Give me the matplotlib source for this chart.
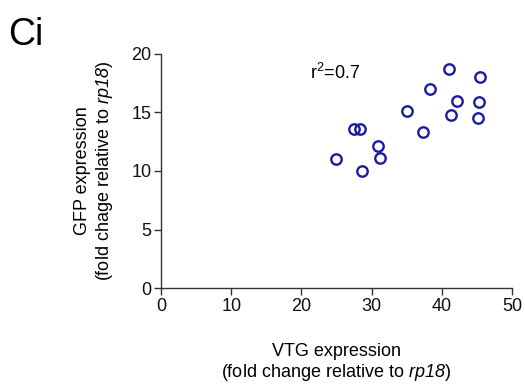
import matplotlib
matplotlib.use('Agg')
import matplotlib.pyplot as plt

# VTG vs GFP expression (fold change relative to rp18)
vtg = [25.0, 27.5, 28.4, 28.6, 30.9, 31.2, 35.0, 37.4, 38.4, 41.0, 41.3, 42.2, 45.4, 45.3, 45.2]
gfp = [11.05, 13.6, 13.6, 9.97, 12.1, 11.1, 15.1, 13.3, 17.0, 18.7, 14.8, 16.0, 18.0, 15.9, 14.5]
x_ticks = [0, 10, 20, 30, 40, 50]
y_ticks = [0, 5, 10, 15, 20]

plt.rcParams['font.family'] = ['Liberation Sans', 'DejaVu Sans']
plt.rcParams['mathtext.fontset'] = 'custom'
plt.rcParams['mathtext.rm'] = 'Liberation Sans'
# italic digits too: use the bf slot for the italic face
plt.rcParams['mathtext.bf'] = 'Liberation Sans:italic'

fig = plt.figure(figsize=(5.25, 3.87), dpi=100)
ax = fig.add_axes([0.3067, 0.2558, 0.975 - 0.3067, 0.8605 - 0.2558])

ax.plot(vtg, gfp, 'o', markerfacecolor='none', markeredgecolor='#1c1ca0',
        markersize=7.5, markeredgewidth=1.7, clip_on=False)

ax.set_xlim(0, 50)
ax.set_ylim(0, 20)
ax.set_xticks(x_ticks)
ax.set_yticks(y_ticks)
ax.spines['top'].set_visible(False)
ax.spines['right'].set_visible(False)
for s in ['left', 'bottom']:
    ax.spines[s].set_linewidth(1.0)
    ax.spines[s].set_color('#333333')
ax.tick_params(direction='out', length=5, width=1.0, labelsize=13, colors='#333333',
               labelcolor='#111111', pad=2)

ax.text(21.3, 18.4, r'r$^2$=0.7', fontsize=13, va='center')

ax.set_xlabel('VTG expression\n(fold change relative to $\\mathbf{rp18}$)', fontsize=13,
              labelpad=20, linespacing=1.15)
ax.set_ylabel('GFP expression\n(fold chage relative to $\\mathbf{rp18}$)', fontsize=13,
              labelpad=12, linespacing=1.15)

fig.text(0.015, 0.885, 'Ci', fontsize=27)

fig.savefig('out.png', dpi=100)
